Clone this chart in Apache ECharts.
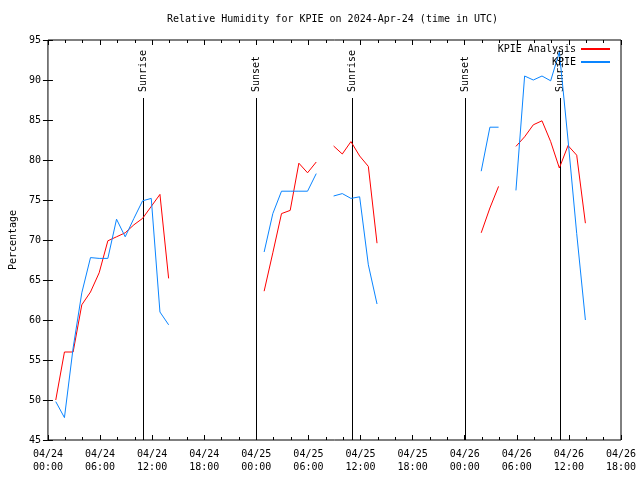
<!DOCTYPE html>
<html>
<head>
<meta charset="utf-8">
<script src="https://cdn.jsdelivr.net/npm/echarts@6/dist/echarts.min.js"></script>
<style>html,body{margin:0;padding:0;background:#fff;}#c{width:640px;height:480px;}</style>
</head>
<body>
<div id="c"></div>
<script>
// Hours since 04/24 00:00 UTC (null values break the lines)
var hours = [0.9,1.9,2.9,3.9,4.9,5.9,6.9,7.9,8.9,9.9,10.9,11.9,12.9,13.9,14.9,
  24.9,25.9,26.9,27.9,28.9,29.9,30.9,31.9,
  32.9,33.9,34.9,35.9,36.9,37.9,38.9,
  49.9,50.9,51.9,52.9,
  53.9,54.9,55.9,56.9,57.9,58.9,59.9,60.9,61.9];
var analysisRH = [50.0,56.0,56.0,61.9,63.5,65.9,69.9,70.4,70.9,71.9,72.7,74.2,75.7,65.2,null,
  63.6,68.4,73.3,73.7,79.6,78.4,79.75,null,
  81.75,80.75,82.3,80.5,79.2,69.6,null,
  70.9,74.0,76.7,null,
  81.7,82.9,84.4,84.9,82.3,79.0,81.8,80.6,72.1];
var obsRH = [49.8,47.8,56.5,63.4,67.8,67.7,67.7,72.6,70.4,72.7,74.9,75.2,61.0,59.4,null,
  68.5,73.3,76.1,76.1,76.1,76.1,78.3,null,
  75.5,75.8,75.2,75.4,66.9,62.0,null,
  78.6,84.1,84.1,null,
  76.2,90.5,90.0,90.5,89.9,93.5,82.5,70.8,60.0];
var eventHours = [11.0, 24.0, 35.0, 48.0, 59.0];
var eventNames = ['Sunrise','Sunset','Sunrise','Sunset','Sunrise'];
var xTickDates = ['04/24','04/24','04/24','04/24','04/25','04/25','04/25','04/25','04/26','04/26','04/26','04/26'];
var xTickTimes = ['00:00','06:00','12:00','18:00','00:00','06:00','12:00','18:00','00:00','06:00','12:00','18:00'];
var seriesNames = ['KPIE Analysis','KPIE'];
var titleText = 'Relative Humidity for KPIE on 2024-Apr-24 (time in UTC)';
var yName = 'Percentage';

var FONT = '"DejaVu Sans Mono", "Liberation Mono", monospace';
function pairs(vals){ return hours.map(function(h,i){ return [h, vals[i]]; }); }

var chart = echarts.init(document.getElementById('c'), null, {renderer:'canvas'});
var xCommon = {
  type:'value', min:0, max:66, interval:6,
  splitLine:{show:false},
  axisLine:{show:false},
  axisTick:{show:true, inside:true, length:5, lineStyle:{color:'#000'}},
  minorTick:{show:true, splitNumber:3, length:3, lineStyle:{color:'#000'}},
  minorSplitLine:{show:false}
};
var yCommon = {
  type:'value', min:45, max:95, interval:5,
  splitLine:{show:false},
  axisLine:{show:false},
  axisTick:{show:true, inside:true, length:5, lineStyle:{color:'#000'}}
};
chart.setOption({
  animation:false,
  backgroundColor:'#fff',
  textStyle:{fontFamily:FONT},
  title:{text:titleText, left:167, top:14, padding:0,
    textStyle:{fontFamily:FONT, fontSize:10, fontWeight:'normal', color:'#000'}},
  grid:{left:46.5, right:19, top:40, bottom:40, show:true, borderColor:'#000', borderWidth:1, backgroundColor:'transparent'},
  legend:{
    data:seriesNames, orient:'vertical', right:30, top:43, align:'right',
    itemWidth:29, itemHeight:2, itemGap:1, icon:'rect', padding:0,
    textStyle:{fontFamily:FONT, fontSize:10, color:'#000', lineHeight:12, padding:[0,0,0,0]}
  },
  xAxis:[
    Object.assign({}, xCommon, {position:'bottom',
      axisLabel:{show:true, margin:8, fontFamily:FONT, fontSize:10, color:'#000', lineHeight:13,
        formatter:function(v){ var i=Math.round(v/6); return xTickDates[i]+'\n'+xTickTimes[i]; }}}),
    Object.assign({}, xCommon, {position:'top', axisLabel:{show:false}})
  ],
  yAxis:[
    Object.assign({}, yCommon, {position:'left', name:yName, nameLocation:'middle', nameGap:29, nameRotate:90,
      nameTextStyle:{fontFamily:FONT, fontSize:10, color:'#000'},
      axisLabel:{show:true, margin:7, fontFamily:FONT, fontSize:10, color:'#000'}}),
    Object.assign({}, yCommon, {position:'right', axisLabel:{show:false}})
  ],
  series:[
    {
      type:'custom', xAxisIndex:0, yAxisIndex:0, z:1, silent:true,
      data:eventHours.map(function(h){ return [h, 45]; }),
      renderItem:function(params, api){
        var x = api.value(0);
        var b = api.coord([x, 45]);
        var t = api.coord([x, 95]);
        var top = t[1] + 58;
        var px = Math.round(b[0]) + 0.5;
        return {type:'group', children:[
          {type:'line', shape:{x1:px, y1:b[1], x2:px, y2:top}, style:{stroke:'#000', lineWidth:1}},
          {type:'text', x:px, y:top-6, rotation:Math.PI/2,
            style:{text:eventNames[params.dataIndex], fill:'#000', font:'10px ' + FONT, align:'left', verticalAlign:'middle'}}
        ]};
      }
    },
    {name:seriesNames[0], type:'line', data:pairs(analysisRH), showSymbol:false, symbol:'none', connectNulls:false,
      lineStyle:{color:'#ff0000', width:1}, itemStyle:{color:'#ff0000'}, z:3},
    {name:seriesNames[1], type:'line', data:pairs(obsRH), showSymbol:false, symbol:'none', connectNulls:false,
      lineStyle:{color:'#0a85ff', width:1}, itemStyle:{color:'#0a85ff'}, z:3}
  ]
});
</script>
</body>
</html>
